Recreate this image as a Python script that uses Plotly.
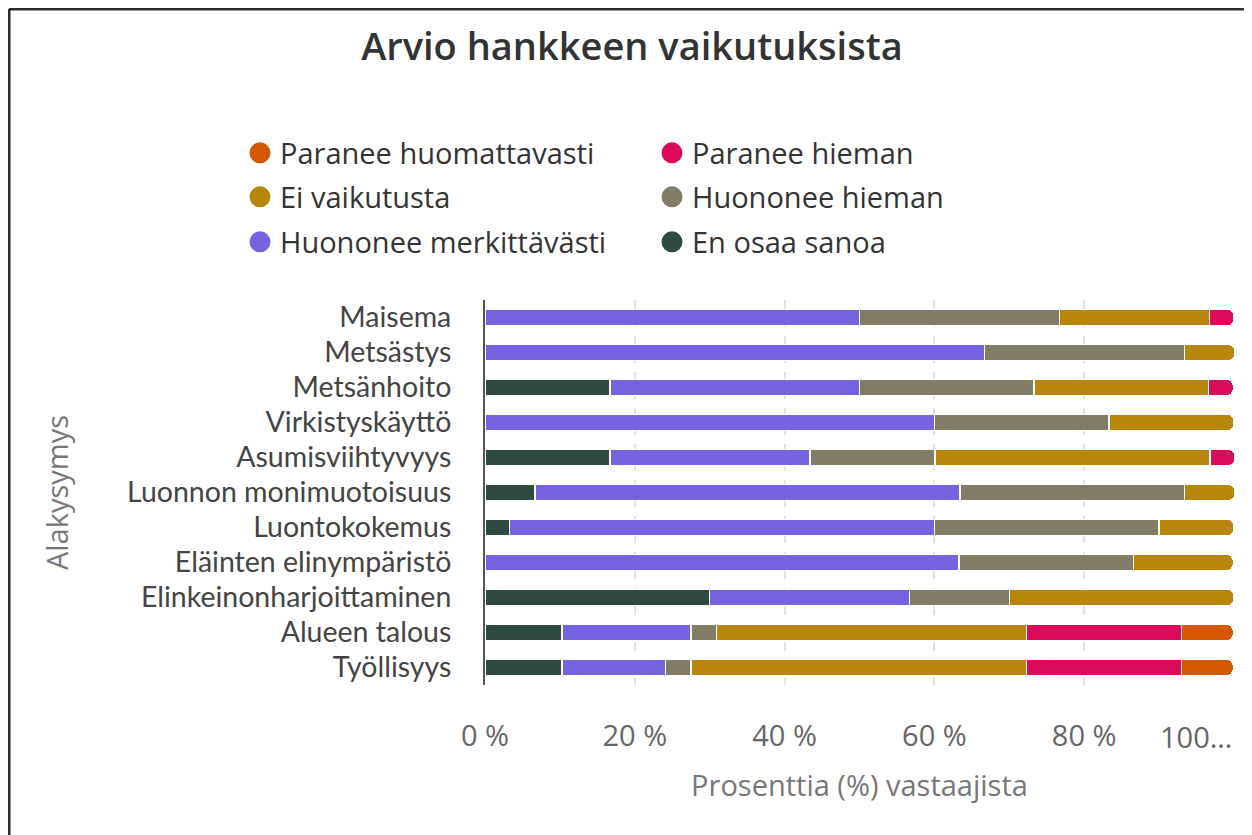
import plotly.graph_objects as go

# ---------------- data ----------------
categories = [
    "Maisema", "Metsästys", "Metsänhoito", "Virkistyskäyttö", "Asumisviihtyvyys",
    "Luonnon monimuotoisuus", "Luontokokemus", "Eläinten elinympäristö",
    "Elinkeinonharjoittaminen", "Alueen talous", "Työllisyys",
]

en_osaa_sanoa = [0, 0, 16.7, 0, 16.7, 6.7, 3.3, 0, 30.0, 10.3, 10.3]
huononee_merkittavasti = [50.0, 66.7, 33.3, 60.0, 26.7, 56.7, 56.7, 63.3, 26.7, 17.2, 13.8]
huononee_hieman = [26.7, 26.7, 23.3, 23.3, 16.7, 30.0, 30.0, 23.3, 13.3, 3.4, 3.4]
ei_vaikutusta = [20.0, 6.7, 23.3, 16.7, 36.7, 6.7, 10.0, 13.3, 30.0, 41.4, 44.8]
paranee_hieman = [3.3, 0, 3.3, 0, 3.3, 0, 0, 0, 0, 20.7, 20.7]
paranee_huomattavasti = [0, 0, 0, 0, 0, 0, 0, 0, 0, 6.9, 6.9]

series_names = ["En osaa sanoa", "Huononee merkittävästi", "Huononee hieman",
                "Ei vaikutusta", "Paranee hieman", "Paranee huomattavasti"]
series_values = [en_osaa_sanoa, huononee_merkittavasti, huononee_hieman,
                 ei_vaikutusta, paranee_hieman, paranee_huomattavasti]
series_colors = ["#2E4A42", "#7563E0", "#807C66", "#B8860B", "#DB0A5B", "#D55800"]

legend_rows = [["Paranee huomattavasti", "Paranee hieman"],
               ["Ei vaikutusta", "Huononee hieman"],
               ["Huononee merkittävästi", "En osaa sanoa"]]

tick_values = [0, 20, 40, 60, 80, 100]
tick_labels = ["0 %", "20 %", "40 %", "60 %", "80 %", ""]
last_tick_label = "100…"

FONT = "Open Sans, Noto Sans, sans-serif"
LABEL_FONT = "Lato, Open Sans, sans-serif"
color_of = dict(zip(series_names, series_colors))

fig = go.Figure()
for name, vals, col in zip(series_names, series_values, series_colors):
    fig.add_trace(go.Bar(
        y=categories, x=[v if v else None for v in vals], orientation="h",
        name=name, showlegend=False,
        marker=dict(color=col, line=dict(color="white", width=1.5)),
        hovertemplate="%{y}: %{x:.1f} %<extra>" + name + "</extra>",
    ))

legend_ids = ["legend", "legend2", "legend3"]
for lid, row in zip(legend_ids, legend_rows):
    for name in row:
        c = color_of[name]
        fig.add_trace(go.Scatter(
            x=[None], y=[None], mode="markers", name=name, legend=lid,
            marker=dict(symbol="circle", size=16, color=c, line=dict(color=c, width=5)),
        ))

# page body has an 8px margin: work in reference-screen pixels and convert
OFF = 8
W, H = 1252 - OFF, 835 - OFF
L, T = 485 - OFF, 300 - OFF
R = W - (1234 - OFF)
B = H - (685 - OFF)
pw, ph = W - L - R, H - T - B


def px_x(px):
    return (px - OFF - L) / pw


def px_y(py):
    return (H - B - (py - OFF)) / ph


legend_common = dict(orientation="h", xanchor="left", yanchor="middle",
                      traceorder="normal",
                      entrywidth=367, entrywidthmode="pixels", itemwidth=30,
                      font=dict(family=FONT, size=29, color="#333333"),
                      bgcolor="rgba(0,0,0,0)", x=px_x(240))

fig.update_layout(
    width=W, height=H,
    template="none",
    paper_bgcolor="white", plot_bgcolor="white",
    margin=dict(l=L, r=R, t=T, b=B, autoexpand=False),
    barmode="stack", bargap=0.54, barcornerradius=6,
    font=dict(family=FONT, color="#444444"),
    title=dict(text="Arvio hankkeen vaikutuksista", x=(632 - OFF) / W, xanchor="center",
               y=1 - (47 - OFF) / H, yanchor="middle",
               font=dict(family=FONT, size=38, color="#333333", weight=600)),
    legend=dict(legend_common, y=px_y(153)),
    legend2=dict(legend_common, y=px_y(197)),
    legend3=dict(legend_common, y=px_y(242)),
    xaxis=dict(range=[0, 100], tickvals=tick_values, ticktext=tick_labels,
               showgrid=True, gridcolor="#E3E3E3", griddash="dash", gridwidth=1.5,
               zeroline=False, showline=False, ticks="", automargin=False,
               ticklabelstandoff=31,
               tickfont=dict(family=FONT, size=29, color="#666666"),
               title=dict(text="Prosenttia (%) vastaajista", standoff=22,
                          font=dict(family=FONT, size=29, color="#777777"))),
    yaxis=dict(categoryorder="array", categoryarray=categories, autorange="reversed",
               showgrid=False, zeroline=False, showline=True, linecolor="#555555",
               linewidth=2, ticks="", automargin=False, ticklabelstandoff=26,
               tickfont=dict(family=LABEL_FONT, size=28.5, color="#444444"),
               title=dict(text="Alakysymys", standoff=50,
                          font=dict(family=FONT, size=29, color="#777777"))),
    annotations=[dict(text=last_tick_label, x=100, xref="x", xanchor="right",
                      y=px_y(736), yref="paper", yanchor="middle", showarrow=False,
                      font=dict(family=FONT, size=29, color="#666666"))],
    shapes=[
        dict(type="line", xref="paper", yref="paper", x0=px_x(9), x1=px_x(1260),
             y0=px_y(9), y1=px_y(9), line=dict(color="#2B2F33", width=3)),
        dict(type="line", xref="paper", yref="paper", x0=px_x(9), x1=px_x(9),
             y0=px_y(9), y1=px_y(845), line=dict(color="#2B2F33", width=3)),
    ],
)

fig.write_html("out.html")
